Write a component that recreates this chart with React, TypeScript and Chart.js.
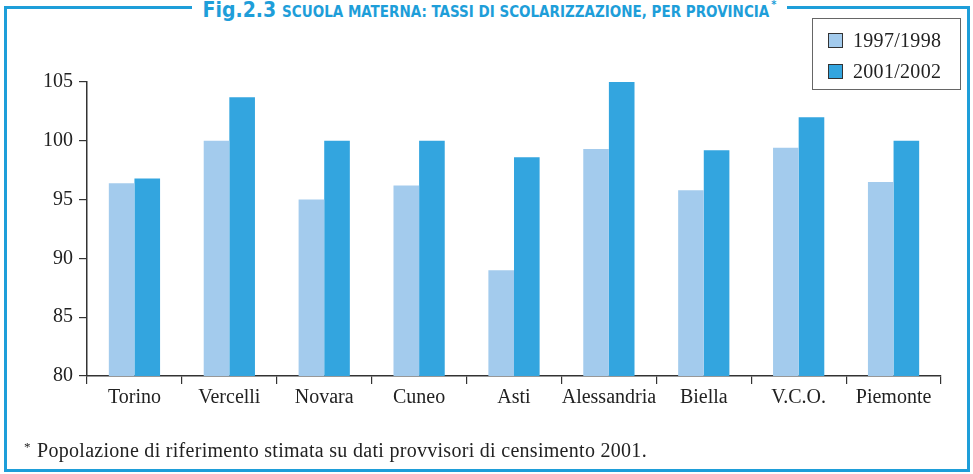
import React, { useEffect, useRef } from "react";
import { Chart, registerables } from "chart.js";

Chart.register(...registerables);

const categories = ["Torino", "Vercelli", "Novara", "Cuneo", "Asti", "Alessandria", "Biella", "V.C.O.", "Piemonte"];
const series1997 = [96.4, 100.0, 95.0, 96.2, 89.0, 99.3, 95.8, 99.4, 96.5];
const series2001 = [96.8, 103.7, 100.0, 100.0, 98.6, 105.0, 99.2, 102.0, 100.0];
const seriesLabels = ["1997/1998", "2001/2002"];
const seriesColors = ["#A3CBED", "#33A5DF"];
const yMin = 80;
const yMax = 105;
const yStep = 5;

const titleMain = "Fig.2.3";
const titleSub = "SCUOLA MATERNA: TASSI DI SCOLARIZZAZIONE, PER PROVINCIA";
const footnote = "Popolazione di riferimento stimata su dati provvisori di censimento 2001.";

const BLUE = "#1E9ED9";
const AXIS = "#333333";
const SERIF = "'Liberation Serif', 'Times New Roman', serif";
const SANS = "'DejaVu Sans Condensed', 'DejaVu Sans', sans-serif";

export default function App() {
  const canvasRef = useRef<HTMLCanvasElement | null>(null);

  useEffect(() => {
    const canvas = canvasRef.current;
    if (!canvas) return;
    const chart = new Chart(canvas, {
      type: "bar",
      data: {
        labels: categories,
        datasets: [
          {
            label: seriesLabels[0],
            data: series1997,
            backgroundColor: seriesColors[0],
            borderWidth: 0,
            categoryPercentage: 0.54,
            barPercentage: 1.0,
          },
          {
            label: seriesLabels[1],
            data: series2001,
            backgroundColor: seriesColors[1],
            borderWidth: 0,
            categoryPercentage: 0.54,
            barPercentage: 1.0,
          },
        ],
      },
      options: {
        animation: false,
        responsive: false,
        maintainAspectRatio: false,
        layout: { padding: { top: 82, right: 32, bottom: 58, left: 0 } },
        plugins: {
          legend: { display: false },
          tooltip: { enabled: false },
          title: { display: false },
        },
        scales: {
          x: {
            grid: {
              offset: true,
              drawOnChartArea: false,
              drawTicks: true,
              tickLength: 8,
              color: AXIS,
              lineWidth: 1.2,
            },
            border: { display: true, color: AXIS, width: 1.5 },
            ticks: {
              font: { family: SERIF, size: 20 },
              color: "#222222",
              padding: 2,
              maxRotation: 0,
              autoSkip: false,
            },
            afterFit: (s: any) => {
              s.height = 40;
            },
          },
          y: {
            min: yMin,
            max: yMax,
            grid: {
              drawOnChartArea: false,
              drawTicks: true,
              tickLength: 8,
              color: AXIS,
              lineWidth: 1.2,
            },
            border: { display: true, color: AXIS, width: 1.5 },
            ticks: {
              stepSize: yStep,
              font: { family: SERIF, size: 20 },
              color: "#222222",
              padding: 6,
            },
            afterFit: (s: any) => {
              s.width = 87;
            },
          },
        },
      },
    });
    return () => chart.destroy();
  }, []);

  return (
    <div style={{ position: "absolute", left: 0, top: 0, width: 973, height: 474, background: "#ffffff", overflow: "hidden" }}>
      <canvas ref={canvasRef} width={973} height={474} style={{ position: "absolute", left: 0, top: 0, width: 973, height: 474 }} />
      <div
        style={{
          position: "absolute",
          left: 4,
          top: 6,
          width: 966,
          height: 466,
          boxSizing: "border-box",
          border: `3px solid ${BLUE}`,
          pointerEvents: "none",
        }}
      />
      <div
        style={{
          position: "absolute",
          left: 192,
          top: -2,
          width: 595,
          height: 24,
          background: "#ffffff",
          display: "flex",
          justifyContent: "center",
          alignItems: "baseline",
          whiteSpace: "nowrap",
          color: BLUE,
          fontFamily: SANS,
          fontWeight: 700,
          lineHeight: "24px",
        }}
      >
        <span style={{ fontSize: 21 }}>{titleMain}</span>
        <span style={{ fontSize: 15, marginLeft: 6 }}>{titleSub}</span>
        <span style={{ fontSize: 11, position: "relative", top: -9, marginLeft: 2 }}>*</span>
      </div>
      <div
        style={{
          position: "absolute",
          left: 812,
          top: 18,
          width: 149,
          height: 72,
          boxSizing: "border-box",
          border: "1px solid #666666",
          background: "#ffffff",
          fontFamily: SERIF,
          fontSize: 20,
          color: "#222222",
        }}
      >
        {seriesLabels.map((lab, i) => (
          <div key={lab} style={{ position: "absolute", left: 15, top: 13 + i * 31, height: 17, display: "flex", alignItems: "center", whiteSpace: "nowrap" }}>
            <span
              style={{
                display: "inline-block",
                width: 15,
                height: 15,
                boxSizing: "border-box",
                border: "1px solid #333333",
                background: seriesColors[i],
              }}
            />
            <span style={{ marginLeft: 10, lineHeight: "17px", letterSpacing: "0.3px" }}>{lab}</span>
          </div>
        ))}
      </div>
      <div
        style={{
          position: "absolute",
          left: 24,
          top: 440,
          fontFamily: SERIF,
          fontSize: 20,
          lineHeight: "20px",
          color: "#222222",
          whiteSpace: "nowrap",
        }}
      >
        <span style={{ fontSize: 13, position: "relative", top: -6, display: "inline-block", width: 13 }}>*</span>
        <span style={{ letterSpacing: "0.29px" }}>{footnote}</span>
      </div>
    </div>
  );
}
